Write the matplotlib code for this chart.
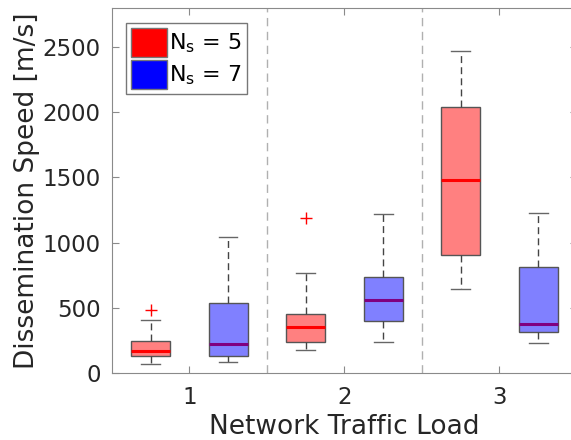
import matplotlib
matplotlib.use("Agg")
import matplotlib.pyplot as plt
from matplotlib.patches import Patch

plt.rcParams['mathtext.fontset'] = 'dejavusans'

# traffic load groups
loads = [1, 2, 3]

# box statistics (per load): whislo, q1, med, q3, whishi
red_lo = [71, 174, 643]
red_q1 = [135, 237, 909]
red_med = [168, 350, 1478]
red_q3 = [250, 457, 2037]
red_hi = [411, 766, 2473]
red_fliers = [[482], [1192], []]

blue_lo = [87, 237, 232]
blue_q1 = [135, 403, 314]
blue_med = [225, 564, 375]
blue_q3 = [534, 740, 814]
blue_hi = [1041, 1217, 1225]
blue_fliers = [[], [], []]

labels = ['$\\mathrm{N_s}$ = 5', '$\\mathrm{N_s}$ = 7']


def make_stats(lo, q1, med, q3, hi, fl):
    return [dict(whislo=a, q1=b, med=c, q3=d, whishi=e, fliers=f)
            for a, b, c, d, e, f in zip(lo, q1, med, q3, hi, fl)]


fig = plt.figure(figsize=(5.71, 4.40), dpi=100)
ax = fig.add_axes([0.196, 0.152, 0.8145, 0.830])

spine_col = '#8a8a8a'
txt_col = '#262626'

for stats, off, face, medc in [
        (make_stats(red_lo, red_q1, red_med, red_q3, red_hi, red_fliers), -0.25, (1, 0.5, 0.5), (1, 0, 0)),
        (make_stats(blue_lo, blue_q1, blue_med, blue_q3, blue_hi, blue_fliers), 0.25, (0.5, 0.5, 1), (0.5, 0, 0.5))]:
    ax.bxp(stats, positions=[l + off for l in loads], widths=0.25,
           patch_artist=True, manage_ticks=False,
           boxprops=dict(facecolor=face, edgecolor='#555555', linewidth=1.0),
           medianprops=dict(color=medc, linewidth=2.2),
           whiskerprops=dict(color='#444444', linestyle=(0, (5, 3)), linewidth=1.0),
           capprops=dict(color='#666666', linewidth=1.0),
           flierprops=dict(marker='+', markeredgecolor='red', markersize=8, linestyle='none'),
           capwidths=0.12)

for xs in [1.5, 2.5]:
    ax.axvline(xs, color='#b0b0b0', linestyle=(0, (6, 4)), linewidth=1.0, zorder=0)

ax.set_xlim(0.5, 3.5)
ax.set_ylim(0, 2800)
ax.set_xticks(loads)
ax.set_yticks([0, 500, 1000, 1500, 2000, 2500])
ax.tick_params(direction='in', labelsize=16.5, colors=spine_col, labelcolor=txt_col,
               top=True, right=True, length=5)
ax.tick_params(axis='x', pad=9)
ax.tick_params(axis='y', pad=8)
for s in ax.spines.values():
    s.set_color(spine_col)

ax.set_xlabel('Network Traffic Load', fontsize=19, color=txt_col, labelpad=4)
ax.set_ylabel('Dissemination Speed [m/s]', fontsize=19, color=txt_col, labelpad=2)

handles = [Patch(facecolor='red', edgecolor='#777777'),
           Patch(facecolor='blue', edgecolor='#777777')]
leg = ax.legend(handles, labels, loc='upper left', fontsize=16, fancybox=False,
                framealpha=1, edgecolor='#777777', handlelength=1.6, handleheight=1.6,
                handletextpad=0.1, borderpad=0.25, labelspacing=0.15,
                borderaxespad=0, bbox_to_anchor=(0.03, 0.96))
leg.get_frame().set_linewidth(1.0)

plt.savefig("out.png", dpi=100)
